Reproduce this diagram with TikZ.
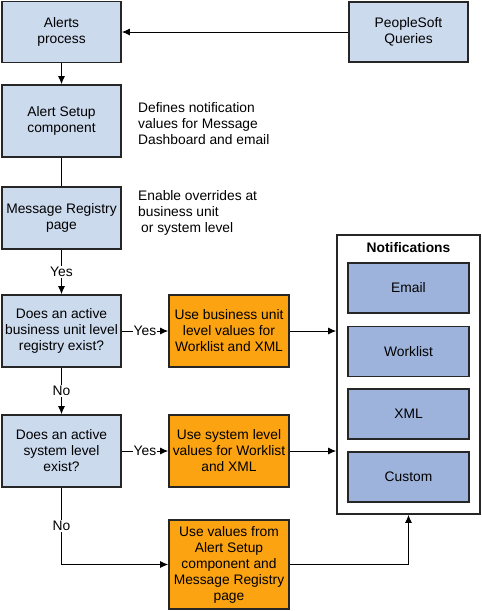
\documentclass[tikz,border=0pt]{standalone}
\usepackage{fontspec}
\setmainfont{Liberation Sans}
\usetikzlibrary{arrows.meta,calc}
\definecolor{lblue}{HTML}{CCDAEE}
\definecolor{dblue}{HTML}{9EB3DB}
\definecolor{orng}{HTML}{FCA311}
\begin{document}
\begin{tikzpicture}[x=1pt,y=-1pt,
  every node/.style={font=\fontsize{13.8}{16}\selectfont},
  bluebox/.style={draw=black!85,line width=1.6pt,fill=lblue,minimum width=119pt,minimum height=61pt,align=center,inner sep=1pt},
  orbox/.style={draw=black!85,line width=1.6pt,fill=orng,minimum width=120pt,minimum height=72pt,align=center,inner sep=1pt},
  notebox/.style={draw=black!85,line width=1.6pt,fill=dblue,minimum width=121pt,minimum height=50pt,align=center},
  conn/.style={line width=1pt,-{Latex[length=8pt,width=7pt]}},
  plainconn/.style={line width=1pt},
  lbl/.style={fill=white,inner sep=1pt}]
\useasboundingbox (0,0) rectangle (482,611);
\node[bluebox] (alerts) at (61.5,32) {Alerts\\process};
\node[bluebox,minimum height=60pt] (queries) at (408.5,32) {PeopleSoft\\Queries};
\node[bluebox,minimum height=72pt] (setup) at (61.5,121) {Alert Setup\\component};
\node[bluebox,minimum height=62pt] (msgreg) at (61.5,218) {Message Registry\\page};
\node[bluebox,minimum height=72pt] (dec1) at (61.5,331) {Does an active\\business unit level\\registry exist?};
\node[orbox] (or1) at (229,331) {Use business unit\\level values for\\Worklist and XML};
\node[bluebox,minimum height=72pt] (dec2) at (61.5,451) {Does an active\\system level\\exist?};
\node[orbox] (or2) at (229,451) {Use system level\\values for Worklist\\and XML};
\node[orbox,minimum height=89pt] (or3) at (229,564.5) {Use values from\\Alert Setup\\component and\\Message Registry\\page};
\node[anchor=west,align=left,inner sep=0pt] (note1) at (138,124) {Defines notification\\values for Message\\Dashboard and email};
\node[anchor=west,align=left,inner sep=0pt] (note2) at (138,213) {Enable overrides at\\business unit\\\hspace*{3pt}or system level};
\node[draw=black!85,line width=1.6pt,fill=white,minimum width=143pt,minimum height=279pt] (notif) at (408.5,374.5) {};
\node[font=\fontsize{13.8}{16}\selectfont\bfseries] (ntitle) at (408.5,248) {Notifications};
\node[notebox] (email) at (408.5,288) {Email};
\node[notebox] (worklist) at (408.5,351.5) {Worklist};
\node[notebox] (xml) at (408.5,414) {XML};
\node[notebox] (custom) at (408.5,477) {Custom};
\draw[conn] (queries) -- (alerts);
\draw[conn] (alerts) -- (setup);
\draw[plainconn] (setup) -- (msgreg);
\draw[conn] (msgreg) -- node[lbl] {Yes} (dec1);
\draw[conn] (dec1) -- node[lbl,inner sep=0.5pt] {Yes} (or1);
\draw[conn] (dec1) -- node[lbl] {No} (dec2);
\draw[conn] (dec2) -- node[lbl,inner sep=0.5pt] {Yes} (or2);
\draw[conn] (or1) -- (or1.east -| notif.west);
\draw[conn] (or2) -- (or2.east -| notif.west);
\draw[conn] (dec2) |- node[lbl,pos=0.25] {No} (or3);
\draw[conn] (or3) -| (notif);
\end{tikzpicture}
\end{document}
